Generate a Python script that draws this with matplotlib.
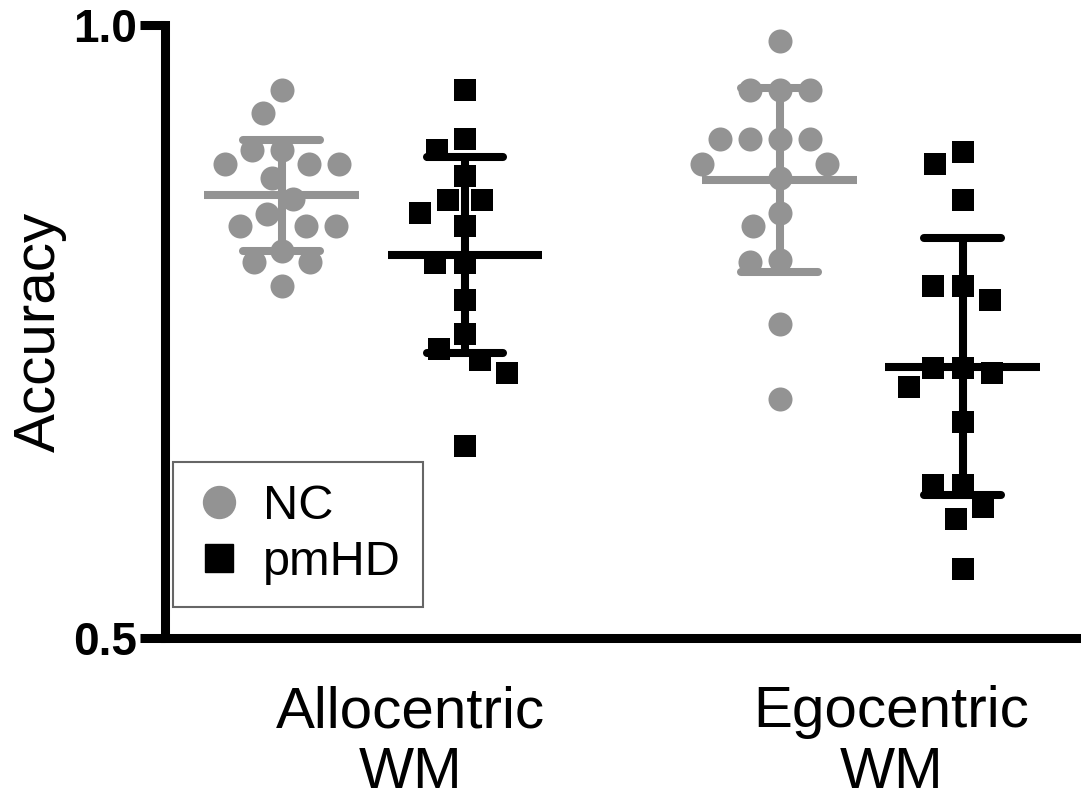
import numpy as np
import matplotlib
matplotlib.use('Agg')
import matplotlib.pyplot as plt
from matplotlib.lines import Line2D

plt.rcParams['font.family'] = ['Liberation Sans', 'DejaVu Sans']

# accuracy values
nc_allo = [0.947, 0.928, 0.898, 0.898, 0.887, 0.887, 0.887, 0.875, 0.858,
           0.846, 0.836, 0.836, 0.836, 0.816, 0.807, 0.807, 0.787]
hd_allo = [0.947, 0.907, 0.898, 0.877, 0.857, 0.857, 0.847, 0.836, 0.806,
           0.806, 0.776, 0.748, 0.736, 0.727, 0.716, 0.657]
nc_ego = [0.987, 0.947, 0.947, 0.947, 0.907, 0.907, 0.907, 0.907, 0.887,
          0.887, 0.875, 0.847, 0.836, 0.807, 0.808, 0.756, 0.695]
hd_ego = [0.896, 0.887, 0.857, 0.787, 0.787, 0.776, 0.716, 0.720, 0.720,
          0.705, 0.676, 0.625, 0.625, 0.607, 0.597, 0.556]

tasks = ['Allocentric\nWM', 'Egocentric\nWM']
group_names = ['NC', 'pmHD']

gray = '#939393'
black = '#000000'


def swarm(vals, d=30.0, sx=183.0, sy=1226.0):
    """simple beeswarm: horizontal offsets (data units) so dots don't pile up"""
    vals = np.asarray(vals)
    order = np.argsort(-vals, kind='stable')
    placed = []
    offs = np.zeros(len(vals))
    for i in order:
        y = vals[i] * sy
        cands = [0.0]
        for px, py in placed:
            dy = abs(py - y)
            if dy < d:
                dx = np.sqrt(d * d - dy * dy)
                cands += [px + dx, px - dx]
        cands = sorted(cands, key=lambda c: (abs(c), c))
        for c in cands:
            ok = True
            for px, py in placed:
                if (px - c) ** 2 + (py - y) ** 2 < d * d - 1e-6:
                    ok = False
                    break
            if ok:
                break
        placed.append((c, y))
        offs[i] = c / sx
    return offs


fig = plt.figure(figsize=(10.81, 8.08), dpi=100)
ax = fig.add_axes([0.1526, 0.2104, 0.8474, 0.7587])

groups = [(1.0, nc_allo, 'o', gray), (2.0, hd_allo, 's', black),
          (3.72, nc_ego, 'o', gray), (4.72, hd_ego, 's', black)]

for x, vals, mk, col in groups:
    vals = np.array(vals)
    size = 17.3 ** 2 if mk == 'o' else 16.5 ** 2
    ax.scatter(x + swarm(vals), vals, s=size, marker=mk, color=col,
               linewidths=0, zorder=2)
    m = vals.mean()
    s = vals.std(ddof=1)
    ax.plot([x - 0.423, x + 0.423], [m, m], color=col, lw=5.8,
            solid_capstyle='butt', zorder=3)
    ax.plot([x, x], [m - s, m + s], color=col, lw=5.8,
            solid_capstyle='butt', zorder=3)
    for yy in (m - s, m + s):
        ax.plot([x - 0.21, x + 0.21], [yy, yy], color=col, lw=5.8,
                solid_capstyle='round', zorder=3)

ax.set_xlim(0.361, 5.366)
ax.set_ylim(0.5, 1.0)

for side in ('top', 'right'):
    ax.spines[side].set_visible(False)
for side in ('left', 'bottom'):
    ax.spines[side].set_linewidth(6.5)

ax.set_yticks([0.5, 1.0])
ax.set_yticklabels(['0.5', '1.0'], fontsize=33, fontweight='bold')
ax.tick_params(axis='y', length=18, width=6.5, pad=2)

ax.set_xticks([1.705, 4.33])
ax.set_xticklabels(tasks, fontsize=42, linespacing=1.15)
ax.tick_params(axis='x', length=0, pad=34)

ax.set_ylabel('Accuracy', fontsize=42)
ax.yaxis.set_label_coords(-0.107, 0.5)

handles = [Line2D([], [], marker='o', ls='', color=gray, ms=23, label=group_names[0]),
           Line2D([], [], marker='s', ls='', color=black, ms=19.5, label=group_names[1])]
leg = ax.legend(handles=handles, loc='upper left', bbox_to_anchor=(0.0087, 0.287),
                borderaxespad=0, fontsize=35, frameon=True, fancybox=False,
                edgecolor='#666666', framealpha=1, handlelength=1.0,
                handletextpad=0.4, borderpad=0.45, labelspacing=0.22)
leg.get_frame().set_linewidth(1.5)

fig.savefig('out.png', dpi=100)
